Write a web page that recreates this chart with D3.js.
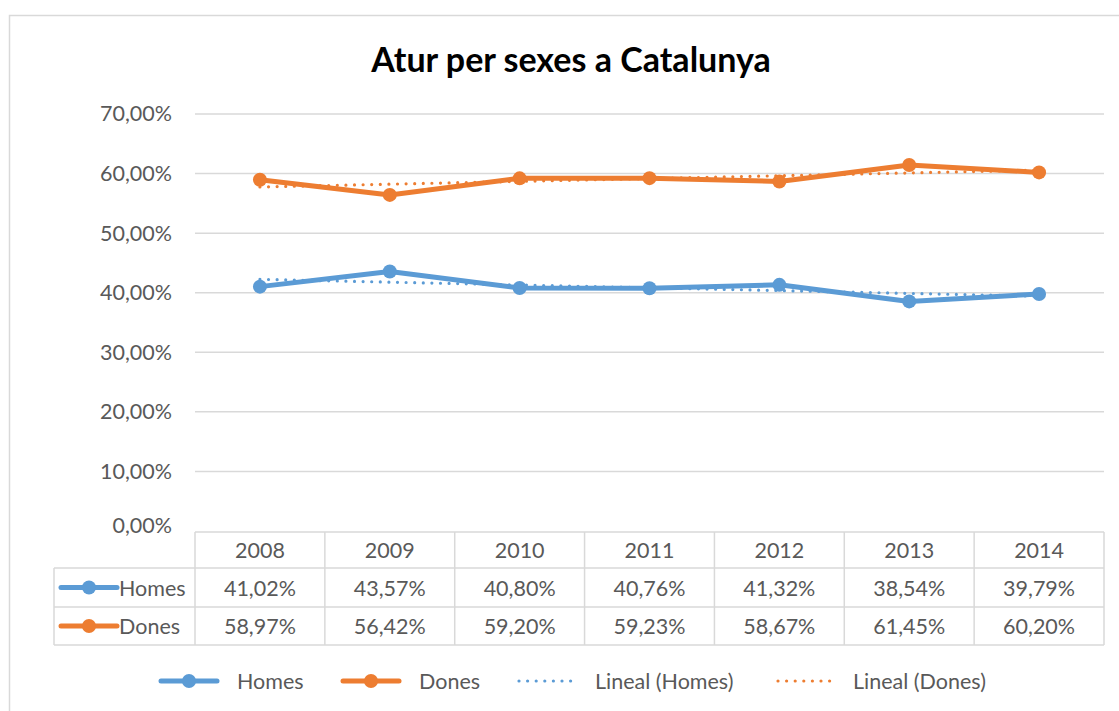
<!DOCTYPE html>
<html>
<head>
<meta charset="utf-8">
<script src="https://cdnjs.cloudflare.com/ajax/libs/d3/7.8.5/d3.min.js"></script>
<style>
  body { margin: 0; background: #fff; }
  svg text { font-family: Lato, "Open Sans", sans-serif; }
</style>
</head>
<body>
<svg id="chart" width="1119" height="711"></svg>
<script>
var years = ["2008", "2009", "2010", "2011", "2012", "2013", "2014"];
var homes = [41.02, 43.57, 40.80, 40.76, 41.32, 38.54, 39.79];
var dones = [58.97, 56.42, 59.20, 59.23, 58.67, 61.45, 60.20];
var yTicks = [0, 10, 20, 30, 40, 50, 60, 70];
var seriesNames = ["Homes", "Dones"];
var colors = ["#5b9bd5", "#ed7d31"];

var locale = d3.formatLocale({ decimal: ",", thousands: ".", grouping: [3], currency: ["", "€"] });
var pct = function (v) { return locale.format(".2f")(v) + "%"; };

var svg = d3.select("#chart");
var textColor = "#595959";
var gridColor = "#d9d9d9";
var fs = 21.5;

// chart frame
svg.append("path")
  .attr("d", "M9.5,720 V15.5 H1130")
  .attr("fill", "none")
  .attr("stroke", gridColor)
  .attr("stroke-width", 1.5);

var x = d3.scaleBand().domain(years).range([195, 1104]);
var y = d3.scaleLinear().domain([0, 70]).range([531, 114]);

// title
svg.append("text")
  .attr("x", 571)
  .attr("y", 72)
  .attr("text-anchor", "middle")
  .attr("font-size", 34)
  .attr("font-weight", "bold")
  .attr("fill", "#000")
  .text("Atur per sexes a Catalunya");

// gridlines + y axis
var yAxis = d3.axisLeft(y).tickValues(yTicks).tickFormat(pct).tickSize(0).tickPadding(23);
var gy = svg.append("g").attr("transform", "translate(195,0)").call(yAxis);
gy.select(".domain").remove();
gy.selectAll("text").attr("font-size", fs).attr("fill", textColor)
  .attr("font-family", "Lato, 'Open Sans', sans-serif");
gy.selectAll("text").filter(function (d) { return d === 0; }).attr("dy", "0.05em");

svg.append("g").selectAll("line")
  .data(yTicks.filter(function (d) { return d > 0; }))
  .enter().append("line")
  .attr("x1", 195).attr("x2", 1104)
  .attr("y1", function (d) { return y(d); })
  .attr("y2", function (d) { return y(d); })
  .attr("stroke", gridColor)
  .attr("stroke-width", 1.5);

// trend lines (linear regression)
function trend(vals) {
  var n = vals.length, sx = 0, sy = 0, sxy = 0, sxx = 0;
  vals.forEach(function (v, i) { sx += i; sy += v; sxy += i * v; sxx += i * i; });
  var b = (n * sxy - sx * sy) / (n * sxx - sx * sx);
  var a = (sy - b * sx) / n;
  return [a, a + b * (n - 1)];
}

var cx = function (i) { return x(years[i]) + x.bandwidth() / 2; };
var line = d3.line()
  .x(function (d, i) { return cx(i); })
  .y(function (d) { return y(d); });

[homes, dones].forEach(function (vals, k) {
  var t = trend(vals);
  svg.append("line")
    .attr("x1", cx(0)).attr("x2", cx(vals.length - 1))
    .attr("y1", y(t[0])).attr("y2", y(t[1]))
    .attr("stroke", colors[k])
    .attr("stroke-width", 3.2)
    .attr("stroke-linecap", "round")
    .attr("stroke-dasharray", "0 8.6");
});

[homes, dones].forEach(function (vals, k) {
  svg.append("path")
    .datum(vals)
    .attr("d", line)
    .attr("fill", "none")
    .attr("stroke", colors[k])
    .attr("stroke-width", 5)
    .attr("stroke-linejoin", "round")
    .attr("stroke-linecap", "round");
  svg.append("g").selectAll("circle")
    .data(vals).enter().append("circle")
    .attr("cx", function (d, i) { return cx(i); })
    .attr("cy", function (d) { return y(d); })
    .attr("r", 7)
    .attr("fill", colors[k]);
});

// data table
var rowY = [532, 568, 607, 645];
var tbl = svg.append("g").attr("stroke", gridColor).attr("stroke-width", 1.5);
tbl.append("line").attr("x1", 195).attr("x2", 1104).attr("y1", rowY[0]).attr("y2", rowY[0]);
rowY.slice(1).forEach(function (ry) {
  tbl.append("line").attr("x1", 54).attr("x2", 1104).attr("y1", ry).attr("y2", ry);
});
tbl.append("line").attr("x1", 54).attr("x2", 54).attr("y1", rowY[1]).attr("y2", rowY[3]);
years.concat(["end"]).forEach(function (yr, i) {
  var xx = i < years.length ? x(yr) : x.range()[1];
  tbl.append("line").attr("x1", xx).attr("x2", xx).attr("y1", rowY[0]).attr("y2", rowY[3]);
});

var txt = svg.append("g").attr("font-size", fs).attr("fill", textColor).attr("text-anchor", "middle");
years.forEach(function (yr, i) {
  txt.append("text").attr("x", cx(i)).attr("y", (rowY[0] + rowY[1]) / 2 + 8).text(yr);
  txt.append("text").attr("x", cx(i)).attr("y", (rowY[1] + rowY[2]) / 2 + 8).text(pct(homes[i]));
  txt.append("text").attr("x", cx(i)).attr("y", (rowY[2] + rowY[3]) / 2 + 8).text(pct(dones[i]));
});

function lineKey(g, x0, yy, color) {
  g.append("line").attr("x1", x0).attr("x2", x0 + 56).attr("y1", yy).attr("y2", yy)
    .attr("stroke", color).attr("stroke-width", 5).attr("stroke-linecap", "round");
  g.append("circle").attr("cx", x0 + 28).attr("cy", yy).attr("r", 7).attr("fill", color);
}

seriesNames.forEach(function (name, k) {
  var yy = (rowY[k + 1] + rowY[k + 2]) / 2;
  lineKey(svg, 61, yy, colors[k]);
  svg.append("text").attr("x", 119).attr("y", yy + 8)
    .attr("font-size", fs).attr("fill", textColor).text(name);
});

// bottom legend
var legY = 681;
var leg = svg.append("g");
lineKey(leg, 161, legY, colors[0]);
leg.append("text").attr("x", 237).attr("y", legY + 8).attr("font-size", fs).attr("fill", textColor).text("Homes");
lineKey(leg, 343, legY, colors[1]);
leg.append("text").attr("x", 419).attr("y", legY + 8).attr("font-size", fs).attr("fill", textColor).text("Dones");

[["Lineal (Homes)", 519, 595], ["Lineal (Dones)", 778, 853]].forEach(function (d, k) {
  leg.append("line").attr("x1", d[1]).attr("x2", d[1] + 60).attr("y1", legY).attr("y2", legY)
    .attr("stroke", colors[k]).attr("stroke-width", 3.2)
    .attr("stroke-linecap", "round").attr("stroke-dasharray", "0 8.6");
  leg.append("text").attr("x", d[2]).attr("y", legY + 8).attr("font-size", fs)
    .attr("fill", textColor).text(d[0]);
});
</script>
</body>
</html>
